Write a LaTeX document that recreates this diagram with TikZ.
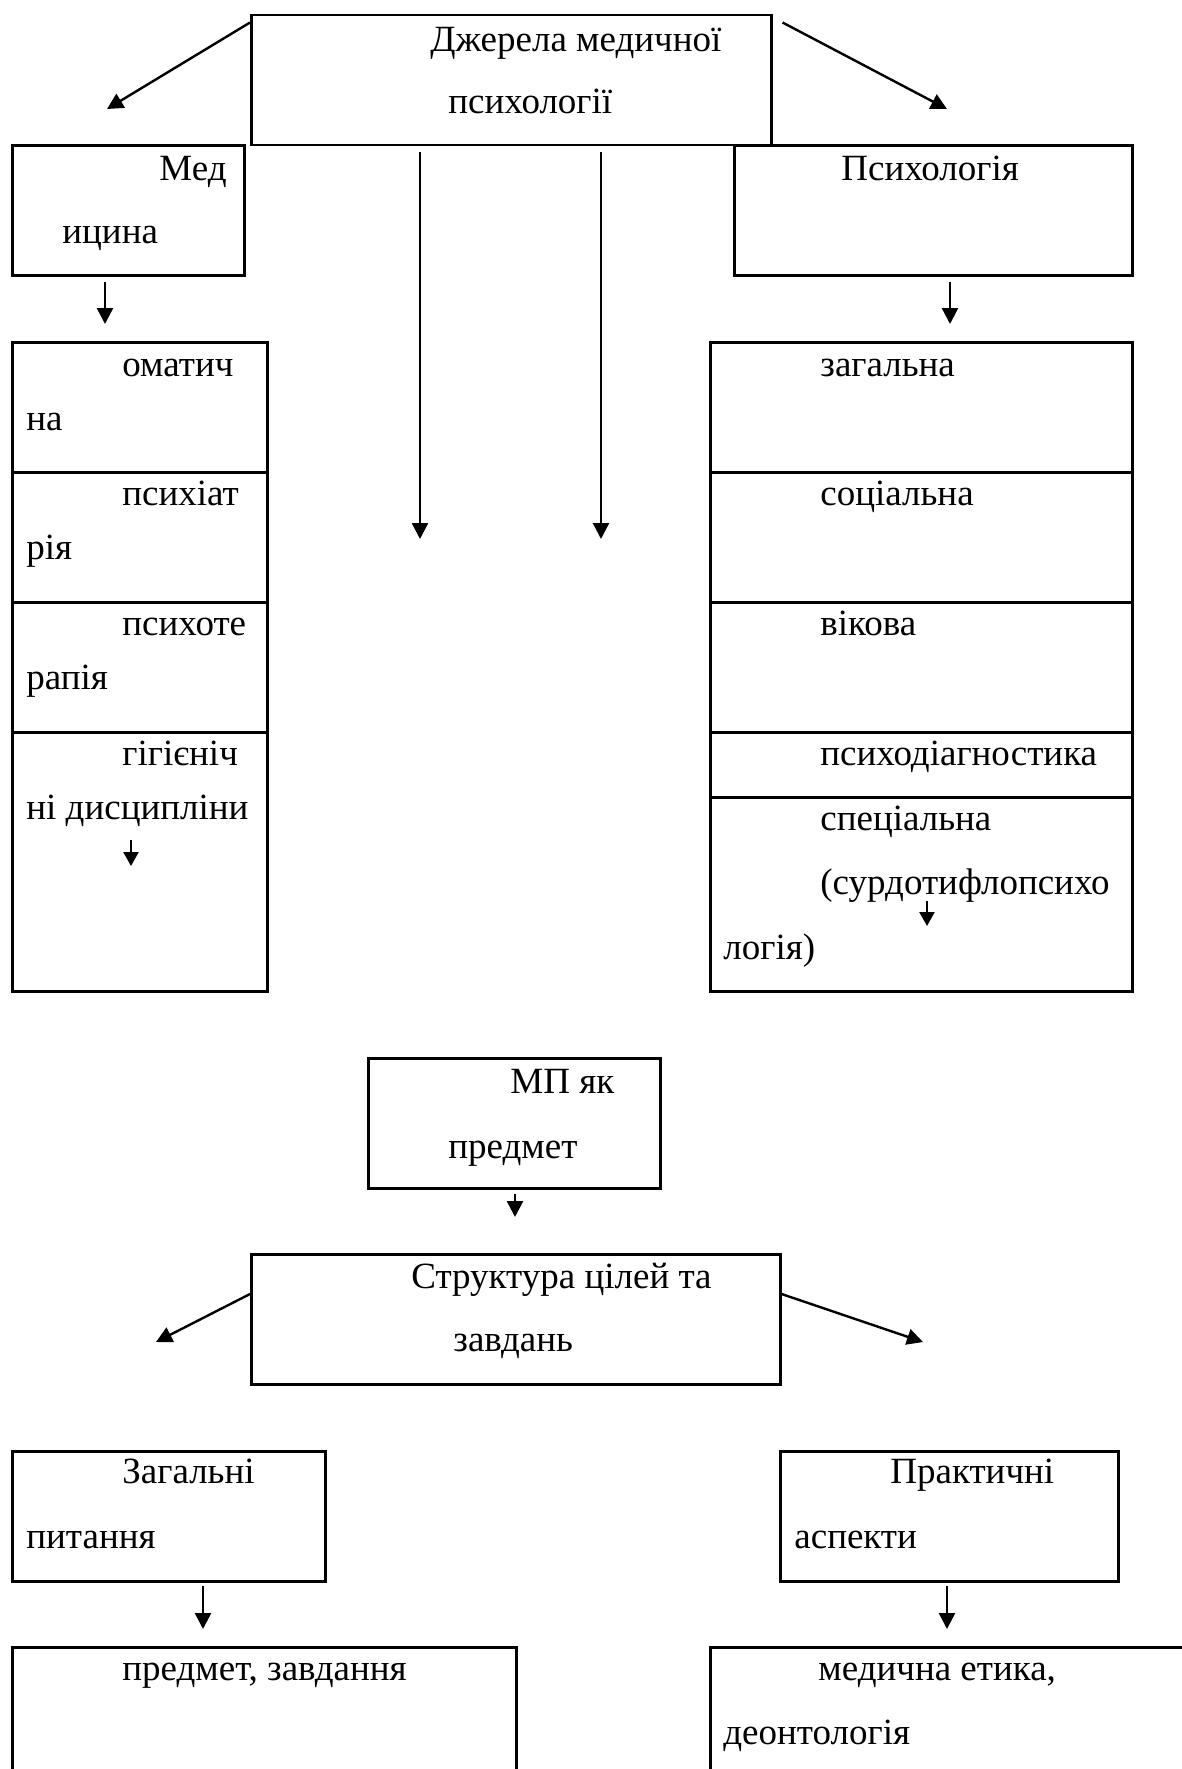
\documentclass[tikz,border=0pt]{standalone}
\usepackage{fontspec}
\setmainfont{Liberation Serif}
\usetikzlibrary{positioning, arrows.meta}

\begin{document}
\begin{tikzpicture}[x=0.5pt, y=-0.5pt, >={Triangle[length=8pt,width=8pt]},
    box/.style={draw, line width=1.3pt, inner sep=0pt, anchor=north west},
    txt/.style={anchor=base west, inner sep=0pt, font=\fontsize{18.5}{22}\selectfont},
    arr/.style={->, line width=1.2pt},
    sarr/.style={-{Triangle[length=7pt,width=7.5pt]}, line width=1.2pt}]
    \useasboundingbox (0,0) rectangle (1182,1769);
    \clip (0,0) rectangle (1182,1769);

    % sources
    \node[box, minimum width=260pt, minimum height=65pt] (top) at (250,13.5) {};
    \node[txt] (topA) at (430,51) {Джерела медичної};
    \node[txt] (topB) at (448,113) {психології};

    \node[box, minimum width=116pt, minimum height=65pt] (med) at (11,144) {};
    \node[txt] (medA) at (159,180) {Мед};
    \node[txt] (medB) at (62,243) {ицина};

    \node[box, minimum width=199pt, minimum height=65pt] (psy) at (733,144) {};
    \node[txt] (psyA) at (841,180) {Психологія};

    % left column
    \node[box, minimum width=127.5pt, minimum height=65pt] (som) at (11,341) {};
    \node[box, minimum width=127.5pt, minimum height=65pt] (psyh) at (11,471) {};
    \node[box, minimum width=127.5pt, minimum height=65pt] (ter) at (11,601) {};
    \node[box, minimum width=127.5pt, minimum height=129.5pt] (gig) at (11,731) {};
    \node[txt] (somA) at (122,376) {оматич};
    \node[txt] (somB) at (26,430) {на};
    \node[txt] (psyhA) at (122,505) {психіат};
    \node[txt] (psyhB) at (26,559) {рія};
    \node[txt] (terA) at (122,635) {психоте};
    \node[txt] (terB) at (26,689) {рапія};
    \node[txt] (gigA) at (122,765) {гігієніч};
    \node[txt] (gigB) at (26,819) {ні дисципліни};

    % right column
    \node[box, minimum width=211pt, minimum height=65pt] (zag) at (709,341) {};
    \node[box, minimum width=211pt, minimum height=65pt] (soc) at (709,471) {};
    \node[box, minimum width=211pt, minimum height=65pt] (vik) at (709,601) {};
    \node[box, minimum width=211pt, minimum height=32.5pt] (diag) at (709,731) {};
    \node[box, minimum width=211pt, minimum height=97pt] (spec) at (709,796) {};
    \node[txt] (zagA) at (820,376) {загальна};
    \node[txt] (socA) at (820,505) {соціальна};
    \node[txt] (vikA) at (820,635) {вікова};
    \node[txt] (diagA) at (820,765) {психодіагностика};
    \node[txt] (specA) at (820,830) {спеціальна};
    \node[txt] (specB) at (820,894) {(сурдотифлопсихо};
    \node[txt] (specC) at (723,959) {логія)};

    % subject
    \node[box, minimum width=146pt, minimum height=65pt] (mp) at (367,1057) {};
    \node[txt] (mpA) at (510,1093) {МП як};
    \node[txt] (mpB) at (448,1158) {предмет};

    \node[box, minimum width=264.5pt, minimum height=65pt] (str) at (250,1253) {};
    \node[txt] (strA) at (411,1288) {Структура цілей та};
    \node[txt] (strB) at (453,1351) {завдань};

    \node[box, minimum width=156.5pt, minimum height=65pt] (gen) at (11,1450) {};
    \node[txt] (genA) at (122,1483) {Загальні};
    \node[txt] (genB) at (26,1548) {питання};

    \node[box, minimum width=169pt, minimum height=65pt] (prak) at (779,1450) {};
    \node[txt] (prakA) at (890,1483) {Практичні};
    \node[txt] (prakB) at (794,1548) {аспекти};

    \node[box, minimum width=252pt, minimum height=80pt] (pred) at (11,1646) {};
    \node[txt] (predA) at (122,1680) {предмет, завдання};

    \node[box, minimum width=260pt, minimum height=80pt] (eth) at (709,1646) {};
    \node[txt] (ethA) at (818,1680) {медична етика,};
    \node[txt] (ethB) at (723,1744) {деонтологія};

    % arrow ends
    \coordinate (a1) at (107,109);
    \coordinate (a2) at (947,109);
    \coordinate (a3) at (420,539);
    \coordinate (a4) at (601,539);
    \coordinate (a5) at (105,324);
    \coordinate (a6) at (950,324);
    \coordinate (s1) at (131,840);
    \coordinate (s1e) at (131,866);
    \coordinate (s2) at (927,901);
    \coordinate (s2e) at (927,926);
    \coordinate (a9) at (515,1217);
    \coordinate (a10) at (156,1342);
    \coordinate (a11) at (923,1342);
    \coordinate (a12) at (203,1629);
    \coordinate (a13) at (947,1629);

    \draw[arr] ([yshift=-4.5pt]top.north west) -- (a1);
    \draw[arr] ([xshift=5pt,yshift=-4.5pt]top.north east) -- (a2);
    \draw[arr, shorten <=3pt] (top.south -| a3) -- (a3);
    \draw[arr, shorten <=3pt] (top.south -| a4) -- (a4);
    \draw[arr, shorten <=2.5pt] (med.south -| a5) -- (a5);
    \draw[arr, shorten <=2.5pt] (psy.south -| a6) -- (a6);
    \draw[sarr] (s1) -- (s1e);
    \draw[sarr] (s2) -- (s2e);
    \draw[arr, shorten <=2pt] (mp.south -| a9) -- (a9);
    \draw[arr] ([yshift=-20.5pt]str.north west) -- (a10);
    \draw[arr] ([yshift=-20.5pt]str.north east) -- (a11);
    \draw[arr, shorten <=1.5pt] (gen.south -| a12) -- (a12);
    \draw[arr, shorten <=1.5pt] (prak.south -| a13) -- (a13);
\end{tikzpicture}
\end{document}
